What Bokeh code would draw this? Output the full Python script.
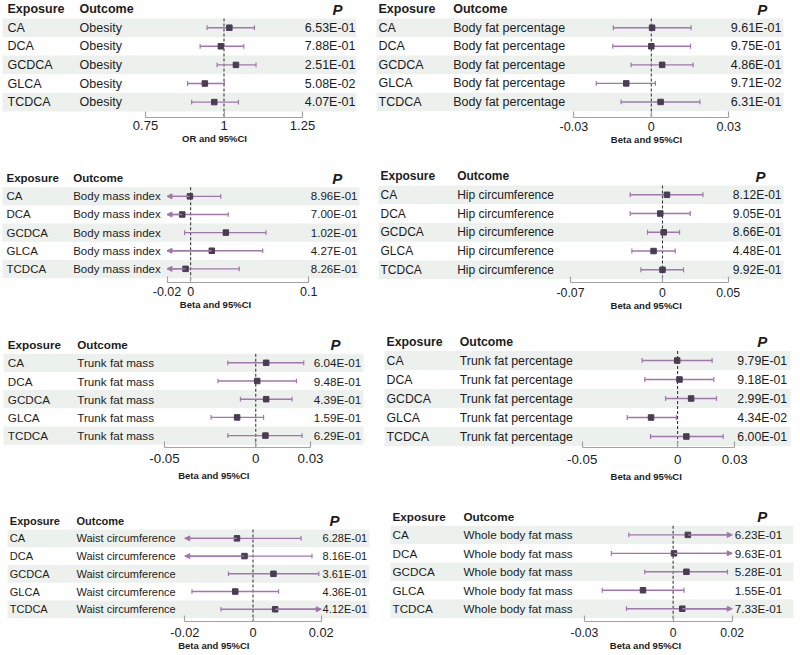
from bokeh.plotting import figure
from bokeh.layouts import column, row
from bokeh.models import (Range1d, LinearAxis, FixedTicker, Title, Arrow, NormalHead)
from bokeh.core.properties import value
from bokeh.embed import file_html
from bokeh.resources import INLINE

# ---------------- data ----------------
exposures = ["CA", "DCA", "GCDCA", "GLCA", "TCDCA"]

outcomes = ["Obesity", "Body fat percentage", "Body mass index", "Hip circumference",
            "Trunk fat mass", "Trunk fat percentage", "Waist circumference",
            "Whole body fat mass"]
axis_titles = ["OR and 95%CI", "Beta and 95%CI", "Beta and 95%CI", "Beta and 95%CI",
               "Beta and 95%CI", "Beta and 95%CI", "Beta and 95%CI", "Beta and 95%CI"]

est_obesity = [1.017, 0.990, 1.038, 0.939, 0.969]
lo_obesity = [0.946, 0.924, 0.978, 0.884, 0.897]
hi_obesity = [1.097, 1.063, 1.102, 1.001, 1.046]
p_obesity = ["6.53E-01", "7.88E-01", "2.51E-01", "5.08E-02", "4.07E-01"]

est_bfp = [0.0003, 0.0000, 0.0042, -0.0097, 0.0036]
lo_bfp = [-0.0147, -0.0149, -0.0078, -0.0213, -0.0117]
hi_bfp = [0.0154, 0.0152, 0.0162, 0.0016, 0.0188]
p_bfp = ["9.61E-01", "9.75E-01", "4.86E-01", "9.71E-02", "6.31E-01"]

est_bmi = [-0.0006, -0.0071, 0.0298, 0.0179, -0.0043]
lo_bmi = [-0.0267, -0.0460, -0.0051, -0.0252, -0.0497]
hi_bmi = [0.0255, 0.0318, 0.0638, 0.0610, 0.0411]
p_bmi = ["8.96E-01", "7.00E-01", "1.02E-01", "4.27E-01", "8.26E-01"]

est_hip = [0.0034, -0.0017, 0.0009, -0.0068, 0.0000]
lo_hip = [-0.0246, -0.0246, -0.0114, -0.0233, -0.0164]
hi_hip = [0.0308, 0.0211, 0.0130, 0.0097, 0.0160]
p_hip = ["8.12E-01", "9.05E-01", "8.66E-01", "4.48E-01", "9.92E-01"]

est_tfm = [0.0057, 0.0008, 0.0057, -0.0102, 0.0053]
lo_tfm = [-0.0153, -0.0207, -0.0084, -0.0245, -0.0153]
hi_tfm = [0.0263, 0.0223, 0.0199, 0.0043, 0.0254]
p_tfm = ["6.04E-01", "9.48E-01", "4.39E-01", "1.59E-01", "6.29E-01"]

est_tfp = [-0.0002, 0.0010, 0.0071, -0.0139, 0.0046]
lo_tfp = [-0.0186, -0.0172, -0.0063, -0.0264, -0.0142]
hi_tfp = [0.0181, 0.0190, 0.0204, -0.0006, 0.0239]
p_tfp = ["9.79E-01", "9.18E-01", "2.99E-01", "4.34E-02", "6.00E-01"]

est_waist = [-0.0047, -0.0025, 0.0060, -0.0052, 0.0065]
lo_waist = [-0.0235, -0.0223, -0.0072, -0.0179, -0.0094]
hi_waist = [0.0141, 0.0173, 0.0193, 0.0075, 0.0224]
p_waist = ["6.28E-01", "8.16E-01", "3.61E-01", "4.36E-01", "4.12E-01"]

est_wbfm = [0.0050, 0.0003, 0.0045, -0.0102, 0.0031]
lo_wbfm = [-0.0150, -0.0209, -0.0096, -0.0240, -0.0158]
hi_wbfm = [0.0250, 0.0215, 0.0184, 0.0037, 0.0220]
p_wbfm = ["6.23E-01", "9.63E-01", "5.28E-01", "1.55E-01", "7.33E-01"]

ticks_obesity = [0.75, 1, 1.25]
ticks_bfp = [-0.03, 0, 0.03]
ticks_bmi = [-0.02, 0, 0.1]
ticks_hip = [-0.07, 0, 0.05]
ticks_tfm = [-0.05, 0, 0.03]
ticks_tfp = [-0.05, 0, 0.03]
ticks_waist = [-0.02, 0, 0.02]
ticks_wbfm = [-0.03, 0, 0.02]

tick_labels_obesity = ["0.75", "1", "1.25"]
tick_labels_bfp = ["-0.03", "0", "0.03"]
tick_labels_bmi = ["-0.02", "0", "0.1"]
tick_labels_hip = ["-0.07", "0", "0.05"]
tick_labels_tfm = ["-0.05", "0", "0.03"]
tick_labels_tfp = ["-0.05", "0", "0.03"]
tick_labels_waist = ["-0.02", "0", "0.02"]
tick_labels_wbfm = ["-0.03", "0", "0.02"]

ref_values = [1, 0, 0, 0, 0, 0, 0, 0]

panels_data = [
    (est_obesity, lo_obesity, hi_obesity, p_obesity, ticks_obesity, tick_labels_obesity),
    (est_bfp, lo_bfp, hi_bfp, p_bfp, ticks_bfp, tick_labels_bfp),
    (est_bmi, lo_bmi, hi_bmi, p_bmi, ticks_bmi, tick_labels_bmi),
    (est_hip, lo_hip, hi_hip, p_hip, ticks_hip, tick_labels_hip),
    (est_tfm, lo_tfm, hi_tfm, p_tfm, ticks_tfm, tick_labels_tfm),
    (est_tfp, lo_tfp, hi_tfp, p_tfp, ticks_tfp, tick_labels_tfp),
    (est_waist, lo_waist, hi_waist, p_waist, ticks_waist, tick_labels_waist),
    (est_wbfm, lo_wbfm, hi_wbfm, p_wbfm, ticks_wbfm, tick_labels_wbfm),
]

# ---------------- layout (page pixel positions) ----------------
LAYOUT = [
    dict(left=0, w=370, top=0, h=165, yca=27.2, s=18.6, yax=117, a=145, b=302, xe=7, xo=79, xp=355, xph=337,
         bl=2, br=356, lx=214, ly=140.5, fs=12.5, tfs=13, tc=127.5),
    dict(left=370, w=430, top=0, h=165, yca=27.3, s=18.6, yax=117.3, a=573.3, b=728.3, xe=378, xo=452.7, xp=781,
         xph=761.7, bl=376, br=783, lx=646, ly=141.5, fs=12.5, tfs=12.6, tc=128),
    dict(left=0, w=370, top=165, h=165, yca=196, s=18.2, yax=282.5, a=166.5, b=308.3, xe=6, xo=72.7, xp=357,
         xph=336.7, bl=2, br=359, lx=215, ly=305.5, fs=11.5, tfs=12.5, tc=293.5),
    dict(left=370, w=430, top=165, h=165, yca=194.3, s=18.75, yax=282, a=570, b=727.7, xe=380, xo=456.7, xp=781,
         xph=760, bl=378, br=783, lx=645.7, ly=306.5, fs=12, tfs=12.3, tc=293.5),
    dict(left=0, w=374, top=330, h=165, yca=362.3, s=18.2, yax=447, a=164, b=310, xe=7.3, xo=76.7, xp=360.7,
         xph=335, bl=3, br=363, lx=213.3, ly=478.5, fs=11.7, tfs=13.3, tc=460.5),
    dict(left=374, w=426, top=330, h=165, yca=360, s=19, yax=447, a=581.7, b=734.3, xe=386, xo=459.3, xp=786.7,
         xph=761.7, bl=384, br=790, lx=645.7, ly=482, fs=12.3, tfs=13.3, tc=461),
    dict(left=0, w=380, top=495, h=160, yca=537.7, s=17.65, yax=620.5, a=184.3, b=320.7, xe=9.3, xo=76,
         xp=366.7, xph=334, bl=7, br=369, lx=213.3, ly=647, fs=11, tfs=12.8, tc=633.5),
    dict(left=380, w=420, top=495, h=160, yca=535, s=18.75, yax=623, a=584, b=731.7, xe=392, xo=463, xp=781.7,
         xph=761.7, bl=390, br=793, lx=645, ly=647, fs=11.7, tfs=12.2, tc=635.5),
]

FONT_NAME = "Liberation Sans"
FONT = value(FONT_NAME)
TEXT_C = "#1c1c1c"
BAND_C = "#edf1ee"
CI_C = "#a276ac"
PT_C = "#4a3c52"
AX_C = "#a3a3a3"
TITLE_FS = 9.5

# approximate bold glyph advance widths (em) for centring the axis titles
BOLD_W = {"B": .722, "e": .556, "t": .333, "a": .556, " ": .278, "n": .611, "d": .611,
          "9": .556, "5": .556, "%": .889, "C": .722, "I": .278, "O": .778, "R": .722}


def text_width(s, size):
    return sum(BOLD_W.get(c, .6) for c in s) * size


def make_panel(i):
    L = LAYOUT[i]
    W = L["w"]
    est, lo, hi, pv, ticks, tlabels = panels_data[i]
    ref = ref_values[i]
    t0, t1 = ticks[0], ticks[-1]

    def r(yimg):
        return 1 + (yimg - L["yca"]) / L["s"]

    def px(ximg):
        return ximg - L["left"]

    k = (t1 - t0) / (L["b"] - L["a"])
    f_start = t0 - px(L["a"]) * k
    f_end = f_start + W * k

    y_bottom = r(L["yax"])
    y_top = r(L["top"])
    bottom_border = L["top"] + L["h"] - L["yax"]

    p = figure(width=W, height=L["h"], x_range=Range1d(0, W),
               y_range=Range1d(y_bottom, y_top), x_axis_type=None, y_axis_type=None,
               output_backend="svg", toolbar_location=None,
               min_border_left=0, min_border_right=0, min_border_top=0,
               min_border_bottom=int(round(bottom_border)),
               outline_line_color=None, background_fill_color="white",
               border_fill_color="white")
    p.extra_x_ranges = {"forest": Range1d(f_start, f_end)}

    rows = [j + 1 for j in range(len(exposures))]

    # shaded bands
    shaded = [y for j, y in enumerate(rows) if j % 2 == 0]
    p.quad(left=[px(L["bl"])] * len(shaded), right=[px(L["br"])] * len(shaded),
           top=[y - 0.5 for y in shaded], bottom=[y + 0.5 for y in shaded],
           fill_color=BAND_C, line_color=None)

    fs = f"{L['fs']}px"
    # header
    p.text(x=[px(L["xe"]), px(L["xo"])], y=[0, 0], text=["Exposure", "Outcome"],
           text_font=FONT, text_font_size=fs, text_font_style="bold", text_color=TEXT_C,
           text_baseline="middle", text_align="left")
    p.text(x=[px(L["xph"])], y=[0], text=["P"], text_font=FONT, text_font_size="15px",
           text_font_style="bold italic", text_color=TEXT_C, text_baseline="middle",
           text_align="center")
    # columns
    p.text(x=[px(L["xe"])] * len(rows), y=rows, text=exposures, text_font=FONT,
           text_font_size=fs, text_color=TEXT_C, text_baseline="middle", text_align="left")
    p.text(x=[px(L["xo"])] * len(rows), y=rows, text=[outcomes[i]] * len(rows), text_font=FONT,
           text_font_size=fs, text_color=TEXT_C, text_baseline="middle", text_align="left")
    p.text(x=[px(L["xp"])] * len(rows), y=rows, text=pv, text_font=FONT,
           text_font_size=fs, text_color=TEXT_C, text_baseline="middle", text_align="right")

    # reference dashed line
    p.segment(x0=[ref], y0=[0.5], x1=[ref], y1=[y_bottom], x_range_name="forest",
              line_color="#3a3a3a", line_dash="3 2", line_width=1.1)

    # CIs
    x0 = [max(v, t0) for v in lo]
    x1 = [min(v, t1) for v in hi]
    p.segment(x0=x0, y0=rows, x1=x1, y1=rows,
              x_range_name="forest", line_color=CI_C, line_width=1.4)
    capx, capy0, capy1 = [], [], []
    for j, y in enumerate(rows):
        if lo[j] >= t0:
            capx.append(lo[j]); capy0.append(y - 0.13); capy1.append(y + 0.13)
        if hi[j] <= t1:
            capx.append(hi[j]); capy0.append(y - 0.13); capy1.append(y + 0.13)
    p.segment(x0=capx, y0=capy0, x1=capx, y1=capy1, x_range_name="forest",
              line_color=CI_C, line_width=1.2)
    for j, y in enumerate(rows):
        if lo[j] < t0:
            p.add_layout(Arrow(x_start=est[j], y_start=y, x_end=t0, y_end=y, x_range_name="forest",
                               line_color=CI_C, line_width=1.4,
                               end=NormalHead(size=5, fill_color=CI_C, line_color=CI_C, line_width=1)))
        if hi[j] > t1:
            p.add_layout(Arrow(x_start=est[j], y_start=y, x_end=t1, y_end=y, x_range_name="forest",
                               line_color=CI_C, line_width=1.4,
                               end=NormalHead(size=5, fill_color=CI_C, line_color=CI_C, line_width=1)))

    p.scatter(x=est, y=rows, marker="square", size=5.5, fill_color=PT_C, line_color=PT_C,
              x_range_name="forest")

    # axis
    standoff = max(0, int(round((L["tc"] - L["yax"]) - 0.55 * L["tfs"])))
    ax = LinearAxis(x_range_name="forest", ticker=FixedTicker(ticks=ticks),
                    bounds=(t0, t1), major_label_overrides=dict(zip(ticks, tlabels)),
                    axis_line_color=AX_C, axis_line_width=1.2,
                    major_tick_line_color=AX_C, major_tick_line_width=1.2,
                    major_tick_in=6, major_tick_out=0, minor_tick_line_color=None,
                    major_label_text_font=FONT_NAME, major_label_text_font_size=f"{L['tfs']}px",
                    major_label_text_color=TEXT_C, major_label_standoff=standoff)
    p.add_layout(ax, "below")

    # axis title, placed below the axis (Title's standoff shifts the text by half its value)
    tw = text_width(axis_titles[i], TITLE_FS)
    gap = (L["ly"] - L["yax"]) - (standoff + 1.15 * L["tfs"]) - 0.6 * TITLE_FS
    avail = bottom_border - (standoff + 1.2 * L["tfs"]) - 4 - 1.2 * TITLE_FS
    t_stand = int(max(0, min(round(2 * gap), avail)))
    t = Title(text=axis_titles[i], align="left", offset=px(L["lx"]) - tw / 2,
              vertical_align="top", standoff=t_stand,
              text_font=FONT_NAME, text_font_size=f"{TITLE_FS}px", text_font_style="bold",
              text_color=TEXT_C)
    p.add_layout(t, "below")
    return p


figs = [make_panel(i) for i in range(8)]
layout = column(row(figs[0], figs[1]), row(figs[2], figs[3]),
                row(figs[4], figs[5]), row(figs[6], figs[7]))

open("out.html", "w").write(file_html(layout, INLINE))
